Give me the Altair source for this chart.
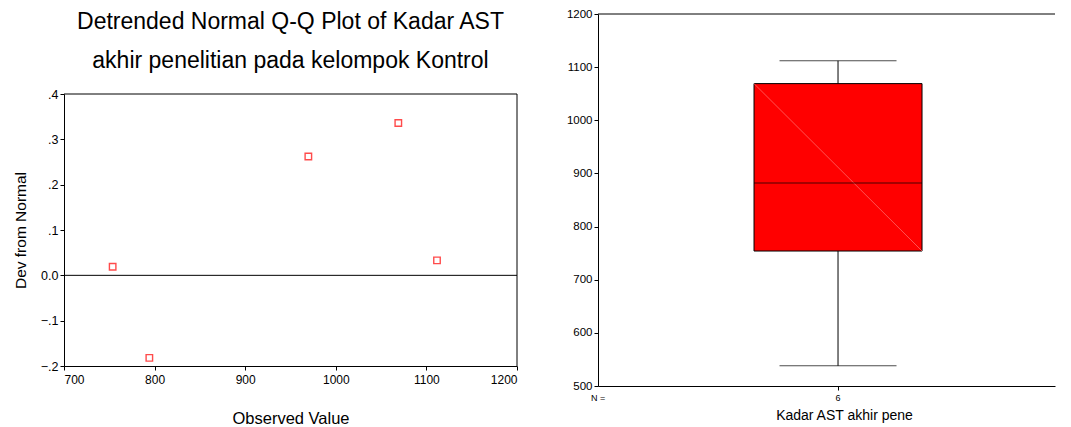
import altair as alt
import pandas as pd

FONT = "Liberation Sans"

# Detrended normal Q-Q plot (visible points)
observed = [753.7, 794.2, 969.7, 1069.0, 1111.7]
deviation = [0.019, -0.182, 0.262, 0.336, 0.033]

# Boxplot summary (Tukey hinges)
box_group = ["6"]
box_min = [538.0]
box_q1 = [754.0]
box_median = [882.0]
box_q3 = [1069.0]
box_max = [1112.0]

x_ticks = [700, 800, 900, 1000, 1100, 1200]
y_ticks = [-0.2, -0.1, 0.0, 0.1, 0.2, 0.3, 0.4]
box_ticks = [500, 600, 700, 800, 900, 1000, 1100, 1200]
title_lines = ["Detrended Normal Q-Q Plot of Kadar AST", "akhir penelitian pada kelompok Kontrol"]

qq = pd.DataFrame({"obs": observed, "dev": deviation})
zero = pd.DataFrame({"y": [0.0]})
box = pd.DataFrame({"grp": box_group, "mn": box_min, "q1": box_q1,
                    "med": box_median, "q3": box_q3, "mx": box_max})

ax_common = dict(domainColor="black", tickColor="black", labelColor="black",
                 titleColor="black", labelFont=FONT, titleFont=FONT,
                 titleFontWeight="normal", grid=False, tickSize=4)

LH = 352  # left view height (title lives in the top part)
xs_scale = alt.Scale(domain=[700, 1200], nice=False, zero=False)
ys_scale = alt.Scale(domain=[-0.2, 0.4], nice=False, zero=False, range=[LH, 80])

xs = alt.X("obs:Q", scale=xs_scale,
           axis=alt.Axis(values=x_ticks, title="Observed Value", labelFontSize=12,
                         labelPadding=4, titleFontSize=16.5, titlePadding=25,
                         format="d", **ax_common))
ys = alt.Y("dev:Q", scale=ys_scale,
           axis=alt.Axis(values=y_ticks, title="Dev from Normal", labelFontSize=12.5,
                         titleFontSize=15.5, titlePadding=12,
                         labelExpr="datum.value == 0 ? '0.0' : replace(format(datum.value, '.1f'), '0.', '.')",
                         **ax_common))

pts = alt.Chart(qq).mark_square(filled=False, color="#ff0000", size=42,
                                strokeWidth=1.4).encode(x=xs, y=ys)
zl = alt.Chart(zero).mark_rule(color="black", strokeWidth=1).encode(
    y=alt.Y("y:Q", scale=ys_scale))
frame_top = alt.Chart(zero).mark_rule(color="black", strokeWidth=1).encode(
    x=alt.X(datum=700, type="quantitative", scale=xs_scale),
    x2=alt.X2(datum=1200),
    y=alt.Y(datum=0.4, type="quantitative", scale=ys_scale))
frame_right = alt.Chart(zero).mark_rule(color="black", strokeWidth=1).encode(
    x=alt.X(datum=1200, type="quantitative", scale=xs_scale),
    y=alt.Y(datum=-0.2, type="quantitative", scale=ys_scale),
    y2=alt.Y2(datum=0.4))
t1 = alt.Chart(pd.DataFrame({"t": [title_lines[0]]})).mark_text(
    font=FONT, fontSize=23, color="black", align="center", baseline="middle").encode(
    x=alt.X(datum=950, type="quantitative", scale=xs_scale), y=alt.value(8), text="t:N")
t2 = alt.Chart(pd.DataFrame({"t": [title_lines[1]]})).mark_text(
    font=FONT, fontSize=23, color="black", align="center", baseline="middle").encode(
    x=alt.X(datum=950, type="quantitative", scale=xs_scale), y=alt.value(47), text="t:N")

left = alt.layer(zl, frame_top, frame_right, pts, t1, t2).properties(width=453, height=LH)

RW = 457
bx = alt.X("grp:N", title="Kadar AST akhir pene",
           scale=alt.Scale(paddingInner=0, paddingOuter=1, align=0.5378),
           axis=alt.Axis(labelAngle=0, labelFontSize=9, titleFontSize=14,
                         titlePadding=6, labelPadding=3, titleX=246, **ax_common))
by_scale = alt.Scale(domain=[500, 1200], nice=False, zero=False)
by_axis = alt.Axis(values=box_ticks, labelFontSize=11.5, labelPadding=2,
                   title=None, format="d", **ax_common)

base = alt.Chart(box)
w_low = base.mark_rule(color="black", strokeWidth=1).encode(
    x=bx, y=alt.Y("mn:Q", scale=by_scale, axis=by_axis), y2="q1:Q")
w_high = base.mark_rule(color="black", strokeWidth=1).encode(
    x=bx, y=alt.Y("q3:Q", scale=by_scale), y2="mx:Q")
cap_low = base.mark_tick(color="black", size=117, thickness=1).encode(
    x=bx, y=alt.Y("mn:Q", scale=by_scale))
cap_high = base.mark_tick(color="black", size=117, thickness=1).encode(
    x=bx, y=alt.Y("mx:Q", scale=by_scale))
body = base.mark_bar(color="#ff0000", stroke="black", strokeWidth=1, size=168).encode(
    x=bx, y=alt.Y("q1:Q", scale=by_scale), y2="q3:Q")
diag = base.mark_rule(color="#ff6a6a", strokeWidth=0.8, xOffset=-84, x2Offset=84).encode(
    x=bx, x2="grp:N", y=alt.Y("q3:Q", scale=by_scale), y2="q1:Q")
med = base.mark_tick(color="black", size=168, thickness=1).encode(
    x=bx, y=alt.Y("med:Q", scale=by_scale))
top_line = base.mark_rule(color="black", strokeWidth=1).encode(
    y=alt.Y(datum=1200, type="quantitative", scale=by_scale))
nlab = alt.Chart(pd.DataFrame({"t": ["N ="]})).mark_text(
    font=FONT, fontSize=9, color="black", align="center", baseline="middle").encode(
    x=alt.value(0), y=alt.value(384), text="t:N")

right = alt.layer(w_low, w_high, cap_low, cap_high, body, diag, med, top_line, nlab).properties(
    width=RW, height=372)

chart = alt.hconcat(left, right, spacing=48).properties(
    padding={"left": 5, "top": 0, "right": 0, "bottom": 0},
    background="white",
).configure_view(stroke="transparent", strokeWidth=0)

chart.save("out.html", embed_options={"renderer": "svg", "actions": False})
